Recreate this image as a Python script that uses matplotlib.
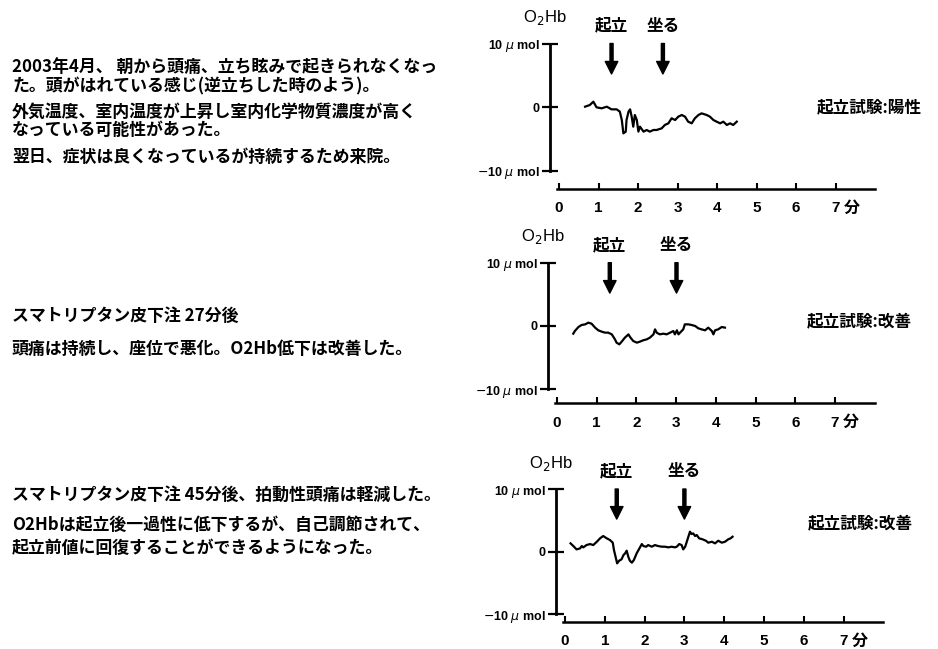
import numpy as np
import matplotlib
matplotlib.use('Agg')
import matplotlib.pyplot as plt

plt.rcParams['font.family'] = ['Noto Sans CJK JP', 'DejaVu Sans']

# --- data (minutes, umol) ---
t1 = [0.66, 0.78, 0.87, 0.95, 1.08, 1.21, 1.33, 1.46, 1.54, 1.59, 1.63, 1.69, 1.71, 1.76, 1.80,
      1.84, 1.88, 1.92, 1.97, 2.01, 2.05, 2.14, 2.22, 2.30, 2.39, 2.47, 2.60, 2.68, 2.77, 2.85,
      2.94, 3.02, 3.11, 3.19, 3.27, 3.36, 3.44, 3.53, 3.61, 3.74, 3.82, 3.91, 3.99, 4.08, 4.16,
      4.25, 4.33, 4.41, 4.50]
o1 = [0.05, 0.31, 0.84, -0.05, -0.21, 0.05, -0.37, -0.37, -0.73, -2.05, -4.15, -3.88, -2.05, -0.73, -0.37,
      -1.52, -3.10, -1.26, -2.05, -3.88, -3.10, -3.88, -3.62, -3.88, -3.62, -3.62, -3.36, -2.83, -2.57, -1.78,
      -2.05, -1.52, -1.26, -1.52, -2.31, -2.57, -1.78, -1.26, -1.00, -1.26, -1.52, -2.05, -2.31, -2.57, -2.31,
      -2.83, -2.57, -2.83, -2.31]

t2 = [0.41, 0.45, 0.54, 0.62, 0.71, 0.79, 0.87, 0.96, 1.04, 1.13, 1.21, 1.29, 1.38, 1.46, 1.50,
      1.57, 1.63, 1.71, 1.80, 1.84, 1.92, 2.01, 2.09, 2.17, 2.26, 2.34, 2.43, 2.47, 2.51, 2.59,
      2.68, 2.76, 2.85, 2.93, 2.97, 3.02, 3.06, 3.10, 3.18, 3.22, 3.31, 3.39, 3.48, 3.56, 3.64,
      3.73, 3.81, 3.90, 3.94, 3.98, 4.06, 4.15, 4.23]
o2 = [-1.21, -0.79, -0.16, 0.16, 0.26, 0.53, 0.37, -0.26, -0.68, -0.90, -1.05, -1.05, -1.32, -2.11, -2.63,
      -2.90, -2.47, -1.84, -1.32, -1.74, -2.37, -2.63, -2.47, -2.26, -2.11, -1.84, -1.32, -0.53, -1.05, -1.32,
      -1.21, -1.32, -1.05, -0.79, -1.32, -0.68, -1.32, -1.05, -0.53, 0.26, 0.26, 0.16, 0.00, -0.37, -0.53,
      -0.68, -0.26, -0.79, -1.32, -0.68, -0.53, -0.16, -0.26]

t3 = [0.14, 0.21, 0.29, 0.38, 0.42, 0.46, 0.54, 0.63, 0.71, 0.80, 0.88, 0.96, 1.05, 1.13, 1.20,
      1.23, 1.28, 1.31, 1.36, 1.42, 1.47, 1.51, 1.55, 1.59, 1.63, 1.68, 1.73, 1.80, 1.87, 1.93,
      1.97, 2.04, 2.09, 2.18, 2.26, 2.34, 2.43, 2.51, 2.60, 2.68, 2.76, 2.81, 2.87, 2.93, 2.97,
      3.02, 3.06, 3.10, 3.14, 3.18, 3.22, 3.27, 3.31, 3.37, 3.46, 3.54, 3.60, 3.69, 3.77, 3.85,
      3.94, 4.02, 4.10, 4.16, 4.21]
o3 = [1.33, 0.90, 0.37, 0.53, 0.90, 0.69, 1.06, 1.22, 1.06, 1.59, 2.13, 2.50, 2.13, 1.86, 1.44,
      0.27, -1.06, -1.86, -1.44, -1.22, -0.53, -0.27, 0.16, -0.80, -1.44, -1.75, -1.33, -0.27, 0.53, 1.22,
      0.90, 0.80, 1.06, 0.80, 1.06, 0.90, 0.80, 0.80, 0.69, 0.80, 0.69, 0.80, 1.22, 1.06, 0.37,
      0.80, 1.59, 2.39, 3.19, 2.82, 2.92, 2.50, 2.66, 2.13, 1.97, 1.75, 1.44, 1.59, 1.33, 1.75,
      1.44, 1.59, 1.97, 2.13, 2.39]

times = [t1, t2, t3]
o2hb = [o1, o2, o3]
stand_t = [1.33, 1.33, 1.30]
sit_t = [2.63, 3.01, 3.00]
results = ['起立試験:陽性', '起立試験:改善', '起立試験:改善']

xtick_vals = [0, 1, 2, 3, 4, 5, 6, 7]
xtick_labels = ['0', '1', '2', '3', '4', '5', '6', '7']
ytick_vals = [10, 0, -10]
ytick_labels = ['10 $\\mu$ mol', '0', '$-$10 $\\mu$ mol']

notes = [
    ['2003年4月、 朝から頭痛、立ち眩みで起きられなくなっ',
     'た。頭がはれている感じ(逆立ちした時のよう)。',
     '外気温度、室内温度が上昇し室内化学物質濃度が高く',
     'なっている可能性があった。',
     '翌日、症状は良くなっているが持続するため来院。'],
    ['スマトリプタン皮下注 27分後',
     '頭痛は持続し、座位で悪化。O2Hb低下は改善した。'],
    ['スマトリプタン皮下注 45分後、拍動性頭痛は軽減した。',
     'O2Hbは起立後一過性に低下するが、自己調節されて、',
     '起立前値に回復することができるようになった。'],
]
note_y = [[67, 86, 112, 130, 157], [316, 349], [495, 525, 548]]

# layout in pixels: x of 0 min, px per min, y of 0 umol, px per umol, x-axis level (umol)
W, H = 938, 649
layout = [(559, 39.5, 107, 6.35, -12.9),
          (557, 39.7, 326, 6.33, -12.2),
          (565, 39.8, 551.7, 6.27, -11.2)]
result_px = [(817, 107), (807, 321), (808, 523)]

fig = plt.figure(figsize=(W / 100, H / 100), dpi=100)
fig.patch.set_facecolor('white')

xlim = (-1.5, 8.4)
ylim = (-15.5, 16.5)
for i in range(3):
    x0, ppm, y0, ppu, xax = layout[i]
    left = x0 + xlim[0] * ppm
    right = x0 + xlim[1] * ppm
    top = y0 - ylim[1] * ppu
    bottom = y0 - ylim[0] * ppu
    ax = fig.add_axes([left / W, 1 - bottom / H, (right - left) / W, (bottom - top) / H])
    ax.set_xlim(xlim)
    ax.set_ylim(ylim)
    ax.patch.set_alpha(0)

    ax.plot(times[i], o2hb[i], color='black', lw=1.6, clip_on=False)

    for s in ['top', 'right']:
        ax.spines[s].set_visible(False)
    ax.spines['left'].set_position(('data', -0.22))
    ax.spines['left'].set_bounds(-10, 10)
    ax.spines['left'].set_linewidth(2.0)
    ax.spines['bottom'].set_position(('data', xax))
    ax.spines['bottom'].set_bounds(-0.05, 8.0)
    ax.spines['bottom'].set_linewidth(1.8)

    ax.set_yticks(ytick_vals)
    ax.set_yticklabels(ytick_labels, family='Liberation Sans', fontsize=9, weight='bold')
    ax.tick_params(axis='y', direction='inout', length=11, width=1.6, pad=2)
    ax.set_xticks(xtick_vals)
    ax.set_xticklabels(xtick_labels, family='Liberation Sans', fontsize=11, weight='bold')
    ax.tick_params(axis='x', direction='in', length=4, width=1.5, pad=9)
    ax.annotate('分', xy=(7, xax), xytext=(6, -13.5), textcoords='offset points',
                fontsize=11.5, weight='bold', va='center', ha='left', annotation_clip=False)

    ax.text(-0.37, 14.1, 'O$_2$Hb', ha='center', va='center', fontsize=12,
            family='Liberation Sans')

    for t, lab in [(stand_t[i], '起立'), (sit_t[i], '坐る')]:
        ax.annotate('', xy=(t, 5.2), xytext=(t, 10.0),
                    arrowprops=dict(facecolor='black', edgecolor='black', width=2.2,
                                    headwidth=9, headlength=9, shrink=0),
                    annotation_clip=False)
        ax.text(t, 12.8, lab, ha='center', va='center', fontsize=12, weight='bold')

    rx, ry = result_px[i]
    fig.text(rx / W, 1 - ry / H, results[i], ha='left', va='center', fontsize=12, weight='bold')

for block, ys in zip(notes, note_y):
    for line, y in zip(block, ys):
        fig.text(12 / W, 1 - y / H, line, ha='left', va='center', fontsize=12.2, weight='bold')

plt.savefig('out.png', dpi=100)
